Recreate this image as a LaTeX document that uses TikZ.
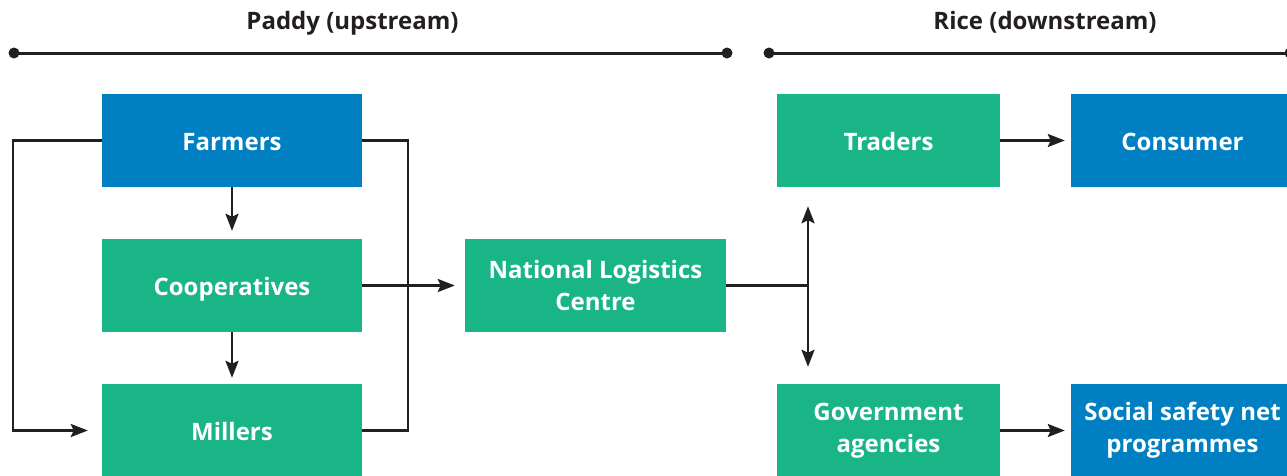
\documentclass[tikz,border=0pt]{standalone}
\usepackage{fontspec}
\setmainfont{Open Sans}
\usetikzlibrary{arrows.meta,calc}
\definecolor{cblue}{HTML}{0080C3}
\definecolor{cgreen}{HTML}{19B586}
\definecolor{cdark}{HTML}{231F20}
\tikzset{
  box/.style={draw=none, minimum height=93pt, inner sep=0pt, align=center,
    text=white, font=\fontsize{24}{32}\selectfont\bfseries},
  one/.style={text height=19pt, text depth=0pt},
  bluebox/.style={box, fill=cblue},
  greenbox/.style={box, fill=cgreen},
  conn/.style={draw=cdark, line width=2.6pt},
  arr/.style={conn, -{Stealth[length=17pt,width=13pt,inset=3pt]}},
  darr/.style={conn, {Stealth[length=17pt,width=13pt,inset=3pt]}-{Stealth[length=17pt,width=13pt,inset=3pt]}},
  headline/.style={draw=cdark, line width=3pt},
  headtext/.style={text=cdark, anchor=base, font=\fontsize{24}{28}\selectfont\bfseries},
  dot/.style={circle, fill=cdark, inner sep=0pt, minimum size=11pt}
}
\begin{document}
\begin{tikzpicture}[x=1pt,y=-1pt]
\useasboundingbox (0,0) rectangle (1287,475);
% headers
\node[headtext] (paddy) at (352.5,29.5) {Paddy (upstream)};
\node[headtext] (rice) at (1045,29.5) {Rice (downstream)};
\node[dot] (d1) at (14,53) {};
\node[dot] (d2) at (727,53) {};
\node[dot] (d3) at (769,53) {};
\node[dot] (d4) at (1290,53) {};
\draw[headline] (d1.center) -- (d2.center);
\draw[headline] (d3.center) -- (d4.center);
% boxes
\node[bluebox, one, minimum width=260pt] (farmers) at (232,140.5) {Farmers};
\node[greenbox, one, minimum width=260pt] (coop) at (232,285.5) {Cooperatives};
\node[greenbox, one, minimum width=260pt] (millers) at (232,430.5) {Millers};
\node[greenbox, minimum width=261pt] (nlc) at (595.5,285.5) {National Logistics\\Centre};
\node[greenbox, one, minimum width=223pt] (traders) at (888.5,140.5) {Traders};
\node[greenbox, minimum width=223pt] (gov) at (888.5,430.5) {Government\\agencies};
\node[bluebox, one, minimum width=223pt] (consumer) at (1182.5,140.5) {Consumer};
\node[bluebox, minimum width=223pt] (ssn) at (1182.5,430.5) {Social safety net\\programmes};
% connectors
\coordinate (lx) at (13,0);
\coordinate (rx) at (408,0);
\coordinate (j) at (808,285.5);
\draw[arr, shorten >=8pt] (farmers) -- (coop);
\draw[arr, shorten >=6pt] (coop) -- (millers);
\draw[arr, shorten >=14pt] (farmers.west) -- (farmers.west -| lx) -- (millers.west -| lx) -- (millers.west);
\draw[conn] (farmers.east) -- (farmers.east -| rx) -- (millers.east -| rx) -- (millers.east);
\draw[arr, shorten >=10pt] (coop.east) -- (coop.east -| nlc.west);
\draw[conn] (nlc.east |- j) -- (j);
\draw[darr, shorten <=19pt, shorten >=17pt] (traders.south -| j) -- (gov.north -| j);
\draw[arr, shorten >=6pt] (traders.east) -- (consumer.west);
\draw[arr, shorten >=6pt] (gov.east) -- (ssn.west);
\end{tikzpicture}
\end{document}
